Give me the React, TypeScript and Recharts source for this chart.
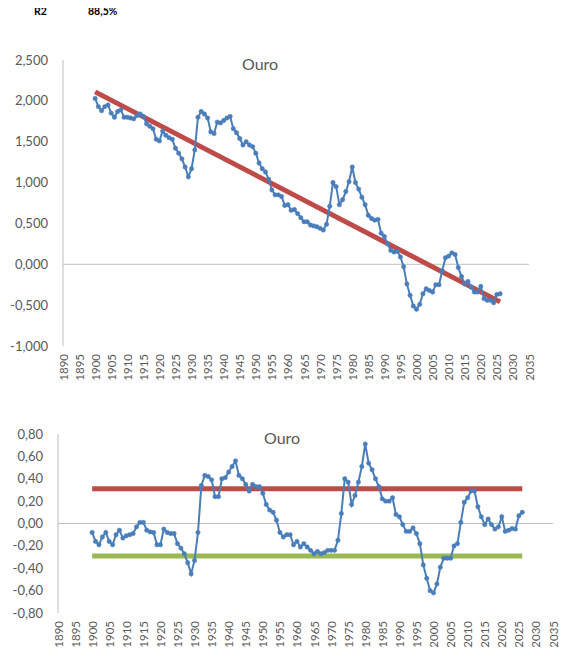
import React from "react";
import { LineChart, Line, XAxis, YAxis, ReferenceLine } from "recharts";

// annual series, first point is 1900
const FIRST_YEAR = 1900;

// log value (top chart)
const ouroValues = [
  2.03, 1.93, 1.88, 1.93, 1.95, 1.85, 1.80, 1.87, 1.89, 1.80,
  1.80, 1.79, 1.78, 1.82, 1.84, 1.81, 1.72, 1.69, 1.66, 1.53,
  1.51, 1.63, 1.58, 1.55, 1.53, 1.42, 1.36, 1.29, 1.19, 1.07,
  1.17, 1.40, 1.80, 1.87, 1.84, 1.79, 1.62, 1.60, 1.74, 1.73,
  1.76, 1.79, 1.81, 1.66, 1.61, 1.54, 1.46, 1.50, 1.46, 1.44,
  1.36, 1.24, 1.17, 1.13, 1.04, 0.91, 0.85, 0.85, 0.83, 0.72,
  0.73, 0.66, 0.67, 0.62, 0.57, 0.52, 0.52, 0.48, 0.47, 0.46,
  0.44, 0.42, 0.49, 0.71, 1.00, 0.95, 0.73, 0.79, 0.89, 1.01,
  1.19, 1.00, 0.92, 0.82, 0.73, 0.60, 0.56, 0.54, 0.55, 0.38,
  0.34, 0.25, 0.17, 0.15, 0.16, 0.09, -0.03, -0.24, -0.38, -0.51,
  -0.55, -0.49, -0.36, -0.30, -0.32, -0.34, -0.25, -0.25, -0.08, 0.08,
  0.10, 0.14, 0.12, -0.04, -0.15, -0.24, -0.21, -0.28, -0.34, -0.34,
  -0.27, -0.42, -0.44, -0.44, -0.47, -0.37, -0.36,
];

// deviation from trend (bottom chart)
const desvioValues = [
  -0.08, -0.16, -0.19, -0.12, -0.08, -0.16, -0.19, -0.10, -0.06, -0.13,
  -0.11, -0.10, -0.09, -0.03, 0.01, 0.01, -0.06, -0.075, -0.08, -0.19,
  -0.19, -0.05, -0.08, -0.09, -0.09, -0.18, -0.22, -0.27, -0.35, -0.45,
  -0.33, -0.08, 0.34, 0.43, 0.42, 0.39, 0.24, 0.24, 0.40, 0.41,
  0.46, 0.51, 0.56, 0.43, 0.40, 0.35, 0.29, 0.35, 0.33, 0.33,
  0.27, 0.17, 0.12, 0.10, 0.03, -0.08, -0.12, -0.10, -0.10, -0.19,
  -0.16, -0.21, -0.18, -0.21, -0.24, -0.27, -0.25, -0.27, -0.26, -0.24,
  -0.24, -0.24, -0.15, 0.09, 0.40, 0.37, 0.17, 0.25, 0.37, 0.51,
  0.71, 0.54, 0.48, 0.40, 0.33, 0.22, 0.20, 0.20, 0.23, 0.08,
  0.06, -0.01, -0.07, -0.07, -0.04, -0.09, -0.18, -0.37, -0.49, -0.60,
  -0.62, -0.54, -0.39, -0.31, -0.31, -0.31, -0.20, -0.18, 0.01, 0.19,
  0.23, 0.29, 0.29, 0.15, 0.06, -0.01, 0.04, -0.01, -0.05, -0.03,
  0.06, -0.07, -0.06, -0.045, -0.05, 0.07, 0.10,
];

const trendYears = [1900, 2026];
const trendValues = [2.11, -0.46];

const bandYears = [1900, 2026];
const upperBand = [0.31, 0.31];
const lowerBand = [-0.29, -0.29];

const xTicks = [
  1890, 1895, 1900, 1905, 1910, 1915, 1920, 1925, 1930, 1935, 1940, 1945, 1950, 1955, 1960,
  1965, 1970, 1975, 1980, 1985, 1990, 1995, 2000, 2005, 2010, 2015, 2020, 2025, 2030, 2035,
];
const topTicks = [-1, -0.5, 0, 0.5, 1, 1.5, 2, 2.5];
const bottomTicks = [-0.8, -0.6, -0.4, -0.2, 0, 0.2, 0.4, 0.6, 0.8];

const ouroData = ouroValues.map((v, i) => ({ year: FIRST_YEAR + i, v }));
const desvioData = desvioValues.map((v, i) => ({ year: FIRST_YEAR + i, v }));
const trendData = trendYears.map((year, i) => ({ year, v: trendValues[i] }));
const upperData = bandYears.map((year, i) => ({ year, v: upperBand[i] }));
const lowerData = bandYears.map((year, i) => ({ year, v: lowerBand[i] }));

const FONT = "Lato, 'Open Sans', sans-serif";
const GREY = "#595959";
const AXIS = "#bfbfbf";
const BLUE = "#4a7ebb";
const RED = "#be4b48";
const GREEN = "#98b954";

const YearTick = (props: any) => {
  const { x, y, payload } = props;
  return (
    <text
      x={x}
      y={y}
      transform={`rotate(-90 ${x} ${y})`}
      textAnchor="end"
      dominantBaseline="central"
      fontSize={11.5}
      fontFamily={FONT}
      fill={GREY}
    >
      {payload.value}
    </text>
  );
};

const fmt3 = (v: number) => v.toFixed(3).replace(".", ",");
const fmt2 = (v: number) => v.toFixed(2).replace(".", ",");

const blueDot = { r: 2.2, fill: BLUE, stroke: BLUE, strokeWidth: 0.5 };

export default function App() {
  return (
    <div style={{ position: "relative", width: 574, height: 661, margin: -8, background: "#fff", fontFamily: FONT }}>
      <div style={{ position: "absolute", left: 34, top: 5, fontSize: 10.5, lineHeight: "12px", fontWeight: 700, color: "#000" }}>R2</div>
      <div style={{ position: "absolute", left: 88, top: 5, fontSize: 10.5, lineHeight: "12px", fontWeight: 700, color: "#000" }}>88,5%</div>

      <div style={{ position: "absolute", left: 0, top: 0 }}>
        <LineChart width={574} height={400} margin={{ top: 60, right: 45, bottom: 14, left: 0 }}>
          <XAxis
            dataKey="year"
            type="number"
            domain={[1890, 2035]}
            ticks={xTicks}
            interval={0}
            axisLine={false}
            tickLine={false}
            height={40}
            tick={<YearTick />}
            allowDuplicatedCategory={false}
          />
          <YAxis
            type="number"
            domain={[-1, 2.5]}
            ticks={topTicks}
            tickFormatter={fmt3}
            width={63}
            tickLine={false}
            tickMargin={9}
            axisLine={{ stroke: AXIS }}
            tick={{ fontSize: 13, fill: GREY, fontFamily: FONT }}
          />
          <ReferenceLine y={0} stroke={AXIS} strokeWidth={1} />
          <Line data={trendData} dataKey="v" type="linear" stroke={RED} strokeWidth={5} dot={false} isAnimationActive={false} />
          <Line data={ouroData} dataKey="v" type="linear" stroke={BLUE} strokeWidth={2} dot={blueDot} isAnimationActive={false} />
        </LineChart>
      </div>
      <div style={{ position: "absolute", left: 242, top: 54, fontSize: 16, color: GREY }}>Ouro</div>

      <div style={{ position: "absolute", left: 0, top: 420 }}>
        <LineChart width={574} height={241} margin={{ top: 14, right: 21, bottom: 8, left: 0 }}>
          <XAxis
            dataKey="year"
            type="number"
            domain={[1890, 2035]}
            ticks={xTicks}
            interval={0}
            axisLine={false}
            tickLine={false}
            height={40}
            tick={<YearTick />}
            allowDuplicatedCategory={false}
          />
          <YAxis
            type="number"
            domain={[-0.8, 0.8]}
            ticks={bottomTicks}
            tickFormatter={fmt2}
            width={58}
            tickLine={false}
            tickMargin={9}
            axisLine={{ stroke: AXIS }}
            tick={{ fontSize: 13, fill: GREY, fontFamily: FONT }}
          />
          <ReferenceLine y={0} stroke={AXIS} strokeWidth={1} />
          <Line data={upperData} dataKey="v" type="linear" stroke={RED} strokeWidth={5} dot={false} isAnimationActive={false} />
          <Line data={lowerData} dataKey="v" type="linear" stroke={GREEN} strokeWidth={5} dot={false} isAnimationActive={false} />
          <Line data={desvioData} dataKey="v" type="linear" stroke={BLUE} strokeWidth={2} dot={blueDot} isAnimationActive={false} />
        </LineChart>
      </div>
      <div style={{ position: "absolute", left: 264, top: 428, fontSize: 16, color: GREY }}>Ouro</div>
    </div>
  );
}
